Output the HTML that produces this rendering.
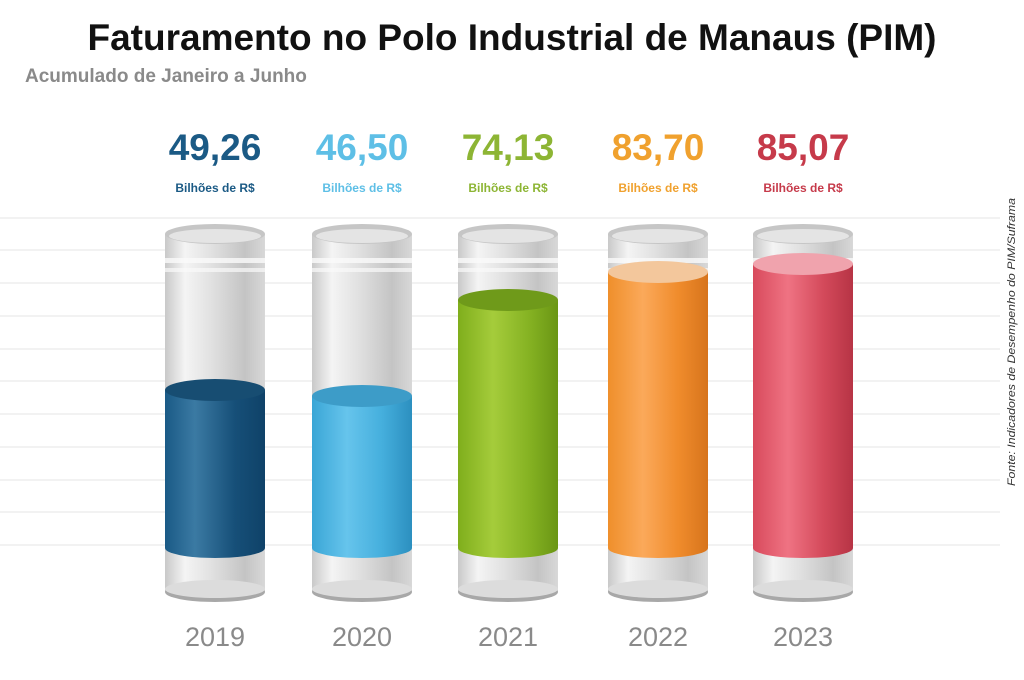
<!DOCTYPE html>
<html><head><meta charset="utf-8"><style>
body{margin:0;background:#fff;}
svg{display:block;font-family:"Liberation Sans",sans-serif;}
</style></head><body>
<svg width="1024" height="680" viewBox="0 0 1024 680">
<defs>
<linearGradient id="glass" x1="0" x2="1"><stop offset="0" stop-color="#c9c9c9"/><stop offset="0.2" stop-color="#f4f4f4"/><stop offset="0.45" stop-color="#e2e2e2"/><stop offset="0.8" stop-color="#c4c4c4"/><stop offset="1" stop-color="#d8d8d8"/></linearGradient>
<linearGradient id="g1" x1="0" x2="1"><stop offset="0" stop-color="#1a5a86"/><stop offset="0.3" stop-color="#3b7aa3"/><stop offset="0.7" stop-color="#164f78"/><stop offset="1" stop-color="#0f4268"/></linearGradient>
<linearGradient id="g2" x1="0" x2="1"><stop offset="0" stop-color="#3aa6d6"/><stop offset="0.35" stop-color="#66c4ec"/><stop offset="0.7" stop-color="#45afdd"/><stop offset="1" stop-color="#2c8fbf"/></linearGradient>
<linearGradient id="g3" x1="0" x2="1"><stop offset="0" stop-color="#7fae1c"/><stop offset="0.35" stop-color="#a5cc3b"/><stop offset="0.7" stop-color="#86b323"/><stop offset="1" stop-color="#6a9614"/></linearGradient>
<linearGradient id="g4" x1="0" x2="1"><stop offset="0" stop-color="#ef8f2b"/><stop offset="0.35" stop-color="#fba95a"/><stop offset="0.7" stop-color="#f08c2c"/><stop offset="1" stop-color="#d7741c"/></linearGradient>
<linearGradient id="g5" x1="0" x2="1"><stop offset="0" stop-color="#d84a5c"/><stop offset="0.35" stop-color="#ef7383"/><stop offset="0.7" stop-color="#d44a5b"/><stop offset="1" stop-color="#b73445"/></linearGradient>
</defs>
<g stroke="#e6e6e6" stroke-width="1">
<line x1="0" y1="218" x2="1000" y2="218"/><line x1="0" y1="250" x2="1000" y2="250"/><line x1="0" y1="283" x2="1000" y2="283"/><line x1="0" y1="316" x2="1000" y2="316"/><line x1="0" y1="349" x2="1000" y2="349"/><line x1="0" y1="381" x2="1000" y2="381"/><line x1="0" y1="414" x2="1000" y2="414"/><line x1="0" y1="447" x2="1000" y2="447"/><line x1="0" y1="480" x2="1000" y2="480"/><line x1="0" y1="512" x2="1000" y2="512"/><line x1="0" y1="545" x2="1000" y2="545"/>
</g>
<text x="512" y="50" text-anchor="middle" font-size="37" font-weight="bold" fill="#111">Faturamento no Polo Industrial de Manaus (PIM)</text>
<text x="25" y="82" font-size="19" font-weight="bold" fill="#8a8a8a">Acumulado de Janeiro a Junho</text>
<text x="1015" y="486" font-size="11" font-style="italic" fill="#333" transform="rotate(-90 1015 486)" textLength="288" lengthAdjust="spacingAndGlyphs">Fonte: Indicadores de Desempenho do PIM/Suframa</text>

<g>
<g transform="translate(165,0)">
<rect x="0" y="234" width="100" height="358" fill="url(#glass)"/><ellipse cx="50" cy="592" rx="50" ry="10" fill="#a8a8a8"/><ellipse cx="50" cy="589" rx="50" ry="9" fill="#dcdcdc"/>
<rect x="0" y="258" width="100" height="5" fill="#fafafa" opacity=".8"/><rect x="0" y="268" width="100" height="4" fill="#fafafa" opacity=".7"/>
<ellipse cx="50" cy="234" rx="50" ry="10" fill="#c6c6c6"/><ellipse cx="50" cy="236" rx="46" ry="7" fill="#e4e4e4"/>
<rect x="0" y="390" width="100" height="158" fill="url(#g1)"/><ellipse cx="50" cy="548" rx="50" ry="10" fill="url(#g1)"/><ellipse cx="50" cy="390" rx="50" ry="11" fill="#174d72"/>
</g>
<g transform="translate(312,0)">
<rect x="0" y="234" width="100" height="358" fill="url(#glass)"/><ellipse cx="50" cy="592" rx="50" ry="10" fill="#a8a8a8"/><ellipse cx="50" cy="589" rx="50" ry="9" fill="#dcdcdc"/>
<rect x="0" y="258" width="100" height="5" fill="#fafafa" opacity=".8"/><rect x="0" y="268" width="100" height="4" fill="#fafafa" opacity=".7"/>
<ellipse cx="50" cy="234" rx="50" ry="10" fill="#c6c6c6"/><ellipse cx="50" cy="236" rx="46" ry="7" fill="#e4e4e4"/>
<rect x="0" y="396" width="100" height="152" fill="url(#g2)"/><ellipse cx="50" cy="548" rx="50" ry="10" fill="url(#g2)"/><ellipse cx="50" cy="396" rx="50" ry="11" fill="#3d9cc8"/>
</g>
<g transform="translate(458,0)">
<rect x="0" y="234" width="100" height="358" fill="url(#glass)"/><ellipse cx="50" cy="592" rx="50" ry="10" fill="#a8a8a8"/><ellipse cx="50" cy="589" rx="50" ry="9" fill="#dcdcdc"/>
<rect x="0" y="258" width="100" height="5" fill="#fafafa" opacity=".8"/><rect x="0" y="268" width="100" height="4" fill="#fafafa" opacity=".7"/>
<ellipse cx="50" cy="234" rx="50" ry="10" fill="#c6c6c6"/><ellipse cx="50" cy="236" rx="46" ry="7" fill="#e4e4e4"/>
<rect x="0" y="300" width="100" height="248" fill="url(#g3)"/><ellipse cx="50" cy="548" rx="50" ry="10" fill="url(#g3)"/><ellipse cx="50" cy="300" rx="50" ry="11" fill="#6f9a1a"/>
</g>
<g transform="translate(608,0)">
<rect x="0" y="234" width="100" height="358" fill="url(#glass)"/><ellipse cx="50" cy="592" rx="50" ry="10" fill="#a8a8a8"/><ellipse cx="50" cy="589" rx="50" ry="9" fill="#dcdcdc"/>
<rect x="0" y="258" width="100" height="5" fill="#fafafa" opacity=".8"/><rect x="0" y="268" width="100" height="4" fill="#fafafa" opacity=".7"/>
<ellipse cx="50" cy="234" rx="50" ry="10" fill="#c6c6c6"/><ellipse cx="50" cy="236" rx="46" ry="7" fill="#e4e4e4"/>
<rect x="0" y="272" width="100" height="276" fill="url(#g4)"/><ellipse cx="50" cy="548" rx="50" ry="10" fill="url(#g4)"/><ellipse cx="50" cy="272" rx="50" ry="11" fill="#f3c79c"/>
</g>
<g transform="translate(753,0)">
<rect x="0" y="234" width="100" height="358" fill="url(#glass)"/><ellipse cx="50" cy="592" rx="50" ry="10" fill="#a8a8a8"/><ellipse cx="50" cy="589" rx="50" ry="9" fill="#dcdcdc"/>
<rect x="0" y="258" width="100" height="5" fill="#fafafa" opacity=".8"/><rect x="0" y="268" width="100" height="4" fill="#fafafa" opacity=".7"/>
<ellipse cx="50" cy="234" rx="50" ry="10" fill="#c6c6c6"/><ellipse cx="50" cy="236" rx="46" ry="7" fill="#e4e4e4"/>
<rect x="0" y="264" width="100" height="284" fill="url(#g5)"/><ellipse cx="50" cy="548" rx="50" ry="10" fill="url(#g5)"/><ellipse cx="50" cy="264" rx="50" ry="11" fill="#f0a3ad"/>
</g>
</g>
<g font-weight="bold" text-anchor="middle">
<text x="215" y="160" font-size="37" fill="#1b5a85">49,26</text>
<text x="362" y="160" font-size="37" fill="#5ebfe6">46,50</text>
<text x="508" y="160" font-size="37" fill="#8db534">74,13</text>
<text x="658" y="160" font-size="37" fill="#f0a12e">83,70</text>
<text x="803" y="160" font-size="37" fill="#c63a4a">85,07</text>
<text x="215" y="192" font-size="12" fill="#1b5a85">Bilhões de R$</text>
<text x="362" y="192" font-size="12" fill="#5ebfe6">Bilhões de R$</text>
<text x="508" y="192" font-size="12" fill="#8db534">Bilhões de R$</text>
<text x="658" y="192" font-size="12" fill="#f0a12e">Bilhões de R$</text>
<text x="803" y="192" font-size="12" fill="#c63a4a">Bilhões de R$</text>
</g>
<g font-size="27" fill="#8a8a8a" text-anchor="middle">
<text x="215" y="646">2019</text><text x="362" y="646">2020</text><text x="508" y="646">2021</text><text x="658" y="646">2022</text><text x="803" y="646">2023</text>
</g>
</svg>
</body></html>
